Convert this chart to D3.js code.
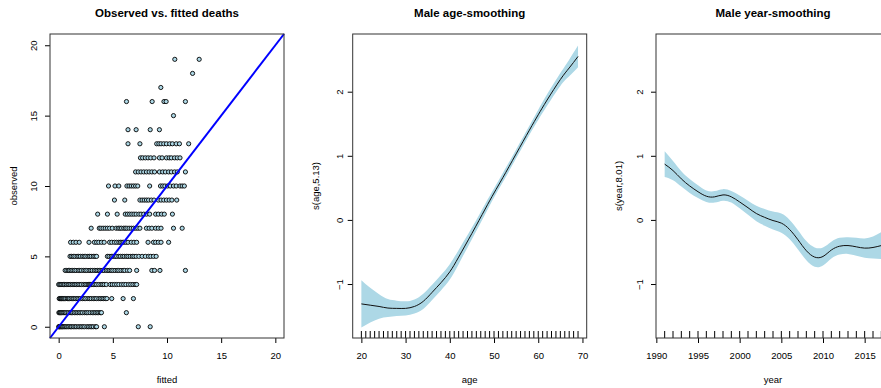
<!doctype html>
<html lang="en">
<head>
<meta charset="UTF-8">
<title>GAM fit</title>
<style>
  body { margin: 0; background: #fff; }
  svg text { font-family: "Liberation Sans", Arial, sans-serif; fill: #000; }
</style>
</head>
<body>
<svg width="881" height="388"></svg>
<script src="https://cdn.jsdelivr.net/npm/d3@7/dist/d3.min.js"></script>
<script>
// observed deaths = index of the row, values = fitted deaths
const fittedByObserved = [
  [0.0,0.05,0.1,0.18,0.25,0.33,0.4,0.5,0.6,0.72,0.85,0.95,1.1,1.2,1.35,1.5,1.62,1.8,1.95,2.1,2.25,2.4,2.6,2.75,2.9,3.05,3.2,3.4,3.5,4.22,7.35,8.45],
  [0.02,0.08,0.15,0.22,0.3,0.4,0.5,0.62,0.75,0.9,1.05,1.2,1.3,1.45,1.6,1.75,1.9,2.05,2.2,2.4,2.55,2.7,2.9,3.1,3.25,3.4,3.55,3.7,3.85,3.95,6.25],
  [0.05,0.12,0.18,0.25,0.3,0.38,0.45,0.55,0.65,0.8,0.9,1.0,1.15,1.3,1.4,1.55,1.7,1.85,2.0,2.2,2.35,2.5,2.7,2.85,3.0,3.2,3.35,3.5,3.7,3.85,4.0,4.15,4.3,4.45,4.9,5.95,6.9],
  [0.0,0.1,0.2,0.3,0.45,0.55,0.7,0.85,0.95,1.1,1.25,1.4,1.5,1.65,1.8,1.95,2.1,2.3,2.45,2.6,2.75,2.85,2.95,3.05,3.2,3.35,3.5,3.7,3.9,4.05,4.2,4.4,4.75,4.95,5.15,5.35,5.55,5.8,6.0,6.2,6.45,6.65,6.85,7.05,7.2],
  [0.6,0.75,0.9,1.0,1.15,1.3,1.45,1.6,1.8,1.95,2.1,2.3,2.45,2.6,2.8,2.95,3.1,3.3,3.45,3.6,3.75,3.9,4.05,4.2,4.4,4.55,4.7,4.85,5.0,5.2,5.4,5.55,5.75,5.95,6.1,6.35,6.55,7.2,8.6,8.85,9.35,11.7],
  [1.05,1.2,1.35,1.5,1.7,1.85,2.0,2.2,2.35,2.5,2.7,2.85,3.0,3.2,3.35,3.5,4.5,4.65,4.85,5.0,5.2,5.35,5.55,5.7,5.9,6.05,6.25,6.4,6.6,6.8,6.95,7.15,7.4,7.7,8.0,8.3,8.5,8.75,9.0],
  [1.1,1.35,1.6,1.9,2.8,3.3,3.5,3.7,3.95,4.2,4.7,4.9,5.15,5.35,5.55,5.7,5.85,6.0,6.2,6.4,6.7,6.95,7.2,8.25,8.75,8.95,9.2,9.45,10.15],
  [3.0,3.75,3.9,4.1,4.3,4.5,4.7,4.95,5.3,5.5,5.65,5.8,6.0,6.15,6.3,6.5,6.7,6.9,7.1,7.3,7.5,8.1,8.35,8.6,8.95,9.2,9.45,10.6,11.4],
  [3.6,4.5,5.4,6.15,6.35,6.55,6.75,6.95,7.15,7.4,7.6,7.85,8.1,8.4,8.95,9.2,9.5,9.75,10.5],
  [5.15,6.1,7.5,7.7,7.9,8.1,8.3,8.55,8.8,9.2,9.45,9.7,9.95,10.2,10.45,10.9],
  [4.6,5.2,5.55,6.3,6.5,6.7,6.9,7.1,7.3,8.4,9.4,9.6,9.8,10.05,10.3,10.6,10.85,11.2,11.4,11.6],
  [7.1,7.35,7.6,7.85,8.1,8.35,8.6,8.85,9.3,9.6,9.85,10.15,10.4,10.7,10.95,11.7],
  [7.55,7.75,8.0,8.25,8.5,8.8,9.3,9.55,9.95,10.2,10.4,10.7,10.95,11.2],
  [6.4,7.5,9.05,9.25,9.45,9.7,9.95,10.25,10.5,10.85,11.15,12.0],
  [6.4,7.15,8.45,9.3],
  [10.6],
  [6.26,8.63,9.72,9.92,11.7],
  [9.43],
  [12.36],
  [10.72,12.97]
];

const ageGrid = [20,22,24,26,28,30,32,34,36,38,40,42,45,48,50,52,55,58,60,62,65,67,69];
const ageFit  = [-1.31,-1.33,-1.35,-1.375,-1.38,-1.38,-1.35,-1.27,-1.13,-0.98,-0.81,-0.58,-0.21,0.17,0.42,0.66,1.03,1.40,1.64,1.87,2.19,2.37,2.55];
const ageHalf = [0.37,0.27,0.19,0.14,0.12,0.11,0.11,0.12,0.12,0.12,0.12,0.11,0.09,0.08,0.07,0.07,0.07,0.07,0.08,0.09,0.10,0.13,0.17];
const ageRug  = [20,21,22,23,24,25,26,27,28,29,30,31,32,33,34,35,36,37,38,39,40,41,42,43,44,45,46,47,48,49,
                 50,51,52,53,54,55,56,57,58,59,60,61,62,63,64,65,66,67,68,69];

const yearGrid = [1991,1992,1993,1994,1995,1996,1997,1998,1999,2000,2001,2002,2003,2004,2005,2006,2007,2008,2009,2010,2011,2012,2013,2014,2015,2016,2017];
const yearFit  = [0.87,0.77,0.64,0.53,0.44,0.37,0.36,0.39,0.36,0.28,0.19,0.10,0.04,-0.01,-0.05,-0.15,-0.31,-0.48,-0.58,-0.57,-0.47,-0.41,-0.40,-0.42,-0.44,-0.43,-0.40];
const yearHalf = [0.20,0.15,0.12,0.11,0.10,0.09,0.09,0.09,0.09,0.10,0.11,0.12,0.13,0.14,0.15,0.15,0.15,0.15,0.15,0.14,0.13,0.13,0.13,0.14,0.15,0.17,0.21];
const yearRug  = yearGrid;

const p1Ticks = [0, 5, 10, 15, 20];
const ageTicks = [20, 30, 40, 50, 60, 70];
const yearTicks = [1990, 1995, 2000, 2005, 2010, 2015];
const smoothYTicks = [-1, 0, 1, 2];

const svg = d3.select("svg");
const plotTop = 34, plotBottom = 338;
const fmt = d3.format("d");

function panel(o) {
  const g = svg.append("g");
  const x = d3.scaleLinear().domain(o.xdom).range([o.left, o.left + 234]);
  const y = d3.scaleLinear().domain(o.ydom).range([plotBottom, plotTop]);

  // x axis
  const xa = g.append("g").attr("transform", `translate(0,${plotBottom})`)
    .call(d3.axisBottom(x).tickValues(o.xticks).tickFormat(fmt)
      .tickSize(5).tickSizeOuter(0).tickPadding(9));
  xa.select(".domain").remove();
  xa.selectAll("text").style("font-size", "9.5px").attr("dy", "0.71em");

  // y axis with R-style rotated labels
  const ya = g.append("g").attr("transform", `translate(${o.left},0)`)
    .call(d3.axisLeft(y).tickValues(o.yticks).tickFormat(fmt).tickSize(5).tickSizeOuter(0));
  ya.select(".domain").remove();
  ya.selectAll("text")
    .attr("x", 0).attr("dy", 0).attr("text-anchor", "middle")
    .attr("transform", `translate(${o.ylabX - o.left},0) rotate(-90)`)
    .style("font-size", "9.5px");

  g.append("text").attr("x", o.left + 117).attr("y", 16.5)
    .attr("text-anchor", "middle").style("font-size", "11.5px").style("font-weight", "bold")
    .text(o.title);
  g.append("text").attr("x", o.left + 117).attr("y", 382.5)
    .attr("text-anchor", "middle").style("font-size", "9.5px").text(o.xlab);
  g.append("text").attr("transform", `translate(${o.yTitleX},186) rotate(-90)`)
    .attr("text-anchor", "middle").style("font-size", "9.5px").text(o.ylab);

  return { g, x, y };
}

function box(p) {
  p.g.append("rect")
    .attr("x", p.x.range()[0]).attr("y", plotTop)
    .attr("width", p.x.range()[1] - p.x.range()[0]).attr("height", plotBottom - plotTop)
    .attr("fill", "none").attr("stroke", "#333").attr("stroke-width", 1);
}

// panel 1: observed vs fitted
const p1 = panel({
  left: 50, xdom: [-0.8, 20.8], ydom: [-0.8, 20.8], xticks: p1Ticks, yticks: p1Ticks,
  ylabX: 36.5, yTitleX: 16.5,
  title: "Observed vs. fitted deaths", xlab: "fitted", ylab: "observed"
});
const pts = [];
fittedByObserved.forEach((row, obs) => row.forEach(f => pts.push({ f, obs })));
p1.g.append("g").selectAll("circle").data(pts).join("circle")
  .attr("cx", d => p1.x(d.f)).attr("cy", d => p1.y(d.obs)).attr("r", 2.1)
  .attr("fill", "#add8e6").attr("stroke", "#000").attr("stroke-width", 0.9);
p1.g.append("line")
  .attr("x1", p1.x(-0.8)).attr("y1", p1.y(-0.8)).attr("x2", p1.x(20.8)).attr("y2", p1.y(20.8))
  .attr("stroke", "#0000ff").attr("stroke-width", 2);
box(p1);

// smooth panels
function smooth(p, grid, fit, half, rug) {
  const rows = grid.map((v, i) => ({ v, f: fit[i], h: half[i] }));
  p.g.append("path").datum(rows)
    .attr("d", d3.area().curve(d3.curveNatural)
      .x(d => p.x(d.v)).y0(d => p.y(d.f - d.h)).y1(d => p.y(d.f + d.h)))
    .attr("fill", "#add8e6");
  p.g.append("path").datum(rows)
    .attr("d", d3.line().curve(d3.curveNatural).x(d => p.x(d.v)).y(d => p.y(d.f)))
    .attr("fill", "none").attr("stroke", "#111").attr("stroke-width", 1);
  p.g.append("g").selectAll("line").data(rug).join("line")
    .attr("x1", d => p.x(d)).attr("x2", d => p.x(d))
    .attr("y1", plotBottom).attr("y2", plotBottom - 7)
    .attr("stroke", "#000").attr("stroke-width", 1);
}

const ydomS = [-1.842, 2.9];
const p2 = panel({
  left: 352.7, xdom: [18.04, 70.96], ydom: ydomS, xticks: ageTicks, yticks: smoothYTicks,
  ylabX: 342.5, yTitleX: 318.5,
  title: "Male age-smoothing", xlab: "age", ylab: "s(age,5.13)"
});
smooth(p2, ageGrid, ageFit, ageHalf, ageRug);
box(p2);

const p3 = panel({
  left: 656, xdom: [1989.96, 2018.04], ydom: ydomS, xticks: yearTicks, yticks: smoothYTicks,
  ylabX: 643, yTitleX: 621.5,
  title: "Male year-smoothing", xlab: "year", ylab: "s(year,8.01)"
});
smooth(p3, yearGrid, yearFit, yearHalf, yearRug);
box(p3);
</script>
</body>
</html>
